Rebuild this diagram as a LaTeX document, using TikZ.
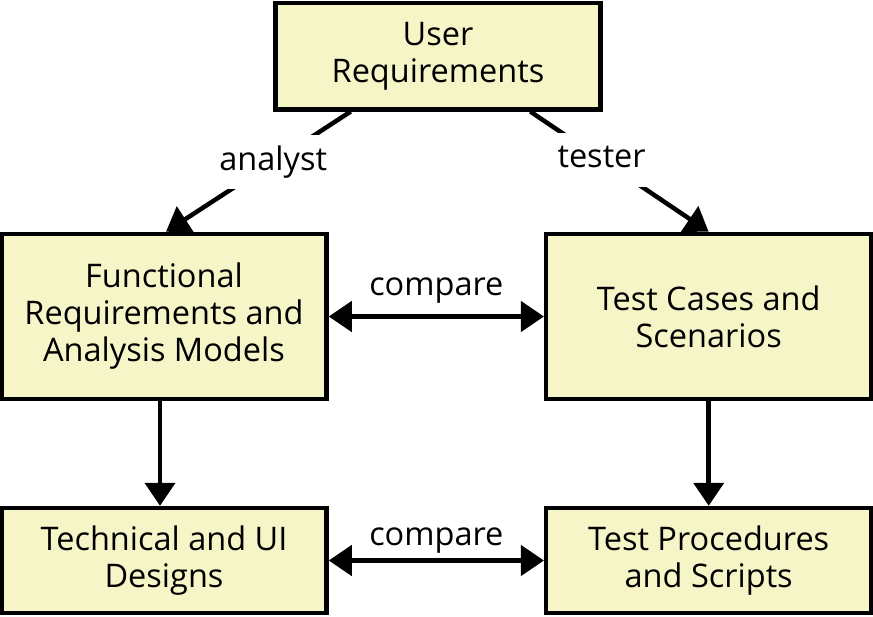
\documentclass[tikz,border=0pt]{standalone}
\usepackage{fontspec}
\setmainfont{Open Sans}
\usetikzlibrary{arrows.meta}
\definecolor{boxfill}{RGB}{245,245,200}
\begin{document}
\begin{tikzpicture}[x=1pt,y=-1pt,
  txt/.style={font=\fontsize{32.5}{37}\selectfont},
  box/.style={txt, draw=black, line width=4.5pt, fill=boxfill, minimum width=325pt, align=center, inner sep=0pt},
  arr/.style={line width=4.5pt, -{Triangle[length=23pt,width=30pt]}},
  darr/.style={line width=4.5pt, {Triangle[length=23pt,width=30pt]}-{Triangle[length=23pt,width=30pt]}},
  lbl/.style={txt, fill=white, inner xsep=4pt, inner ysep=11pt, text height=24pt, text depth=8pt}]
\useasboundingbox (0,0) rectangle (873,616);
\node[box, minimum height=106.5pt] (ur) at (438,56) {User\\Requirements};
\node[box, minimum height=165pt] (fr) at (164,316.5) {Functional\\Requirements and\\Analysis Models};
\node[box, minimum height=165pt] (tc) at (708.7,316.5) {Test Cases and\\Scenarios};
\node[box, minimum height=105pt] (td) at (164,560.5) {Technical and UI\\Designs};
\node[box, minimum height=105pt] (tp) at (708.7,560.5) {Test Procedures\\and Scripts};
\draw[arr] ([xshift=77.5pt]ur.south west) -- node[lbl,pos=0.42]{analyst} ([xshift=2pt]fr.north);
\draw[arr] ([xshift=-72.5pt]ur.south east) -- node[lbl,pos=0.4]{tester} (tc.north);
\draw[arr] ([xshift=-4pt]fr.south) -- ([xshift=-4pt]td.north);
\draw[arr] (tc.south) -- (tp.north);
\draw[darr] (fr.east) -- node[txt, yshift=26pt]{compare} (tc.west);
\draw[darr] (td.east) -- node[txt, yshift=20pt]{compare} (tp.west);
\end{tikzpicture}
\end{document}
